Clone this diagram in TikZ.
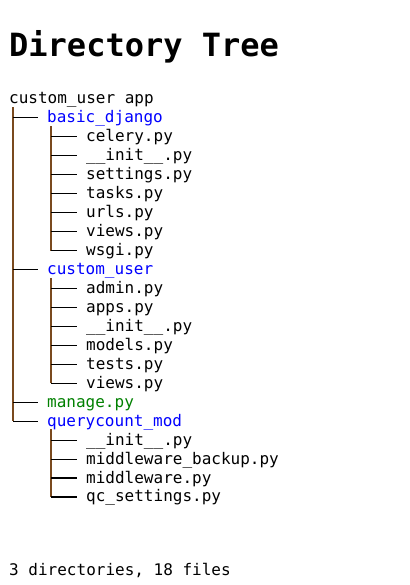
\documentclass[tikz,border=0pt]{standalone}
\usepackage{fontspec}
\setmonofont{DejaVu Sans Mono}
\usetikzlibrary{
	positioning,
	calc,
}
\definecolor{DirBlue}{HTML}{0000FF}
\definecolor{FileGreen}{HTML}{008000}
\definecolor{TreeLine}{HTML}{7A4A1E}
\newcommand{\rowy}[1]{99+(#1)*18.95}

\begin{document}
\begin{tikzpicture}[
        x=1pt, y=-1pt,
		every node/.style={font=\ttfamily\fontsize{16}{19}\selectfont,
			inner sep=0pt, anchor=west, text height=13pt, text depth=3pt},
		dir/.style = {text=DirBlue},
		exe/.style = {text=FileGreen},
		stem/.style = {draw=TreeLine, line width=1.1pt},
		branch/.style = {draw=black, line width=1.1pt},
	]
	\useasboundingbox (0,0) rectangle (409,585);
	\node[font=\ttfamily\bfseries\fontsize{32}{38}\selectfont,
		anchor=base west, text height={}, text depth={}] (title) at (9,57) {Directory Tree};
	\node (root) at (9,{\rowy{0}}) {custom\_user app};
	\coordinate (rt) at ([xshift=4pt]root.south west);
	% top level entries
	\node[dir] (bd) at (47,{\rowy{1}}) {basic\_django};
	\node[dir] (cu) at (47,{\rowy{9}}) {custom\_user};
	\node[exe] (mg) at (47,{\rowy{16}}) {manage.py};
	\node[dir] (qm) at (47,{\rowy{17}}) {querycount\_mod};
	\draw[stem] (rt) -- (rt |- qm.west);
	\foreach \n in {bd,cu,mg,qm}
		\draw[branch] (rt |- \n.west) -- ([xshift=-9.5pt]\n.west);
	% files in basic_django
	\foreach \f [count=\j] in {celery.py,\_\_init\_\_.py,settings.py,tasks.py,urls.py,views.py,wsgi.py}
		\node (bd-\j) at (86,{\rowy{1+\j}}) {\f};
	\coordinate (bt) at ([xshift=4pt]bd.south west);
	\draw[stem] (bt) -- (bt |- bd-7.west);
	\foreach \j in {1,...,7}
		\draw[branch] (bt |- bd-\j.west) -- ([xshift=-9.5pt]bd-\j.west);
	% files in custom_user
	\foreach \f [count=\j] in {admin.py,apps.py,\_\_init\_\_.py,models.py,tests.py,views.py}
		\node (cu-\j) at (86,{\rowy{9+\j}}) {\f};
	\coordinate (ct) at ([xshift=4pt]cu.south west);
	\draw[stem] (ct) -- (ct |- cu-6.west);
	\foreach \j in {1,...,6}
		\draw[branch] (ct |- cu-\j.west) -- ([xshift=-9.5pt]cu-\j.west);
	% files in querycount_mod
	\foreach \f [count=\j] in {\_\_init\_\_.py,middleware\_backup.py,middleware.py,qc\_settings.py}
		\node (qm-\j) at (86,{\rowy{17+\j}}) {\f};
	\coordinate (qt) at ([xshift=4pt]qm.south west);
	\draw[stem] (qt) -- (qt |- qm-4.west);
	\foreach \j in {1,...,4}
		\draw[branch] (qt |- qm-\j.west) -- ([xshift=-9.5pt]qm-\j.west);
	\node[anchor=base west, text height={}, text depth={}] (summary) at (9,575) {3 directories, 18 files};
\end{tikzpicture}
\end{document}
